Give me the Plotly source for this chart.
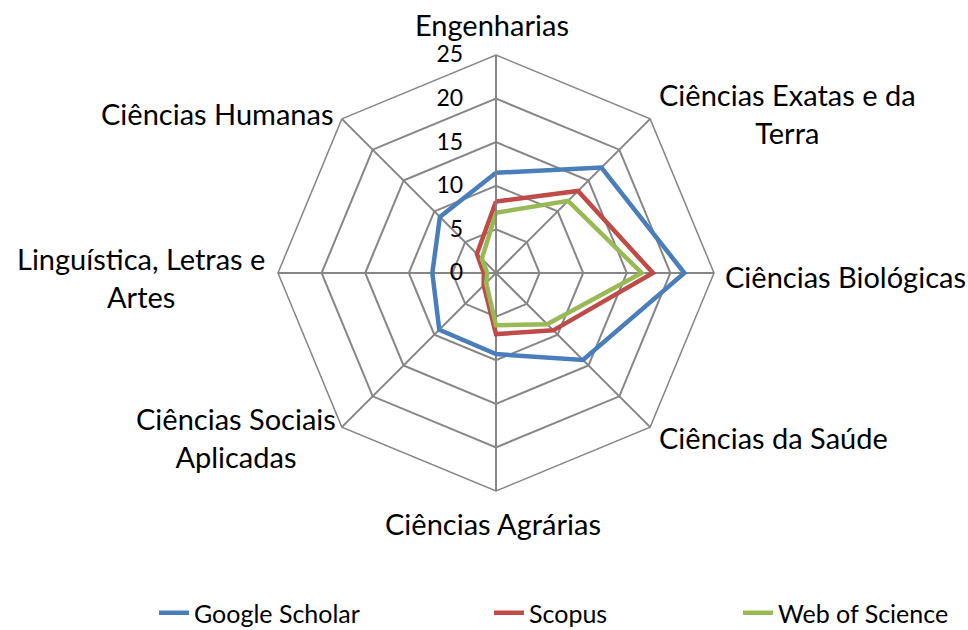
import plotly.graph_objects as go

categories = ["Engenharias", "Ciências Exatas e da Terra", "Ciências Biológicas",
              "Ciências da Saúde", "Ciências Agrárias", "Ciências Sociais Aplicadas",
              "Linguística, Letras e Artes", "Ciências Humanas"]
google_scholar = [11.5, 17.1, 21.6, 14.1, 9.3, 9.2, 7.3, 9.1]
scopus = [8.2, 13.3, 18.0, 9.3, 7.0, 2.0, 1.4, 3.1]
web_of_science = [6.9, 11.7, 16.7, 8.3, 6.0, 1.6, 1.0, 2.3]
radial_ticks = [0, 5, 10, 15, 20, 25]

series = [("Google Scholar", google_scholar, "#4A7EBB", "legend"),
          ("Scopus", scopus, "#BE4B48", "legend2"),
          ("Web of Science", web_of_science, "#98B954", "legend3")]

FONT = "Lato"
GRID = "#868686"

fig = go.Figure()
for name, vals, color, lg in series:
    fig.add_trace(go.Scatterpolar(
        r=vals + vals[:1], theta=categories + categories[:1],
        mode="lines", name=name, line=dict(color=color, width=4.5),
        legend=lg, showlegend=True))

leg_common = dict(orientation="h", font=dict(family=FONT, size=25, color="black"),
                  bgcolor="rgba(0,0,0,0)", xanchor="left", yanchor="middle",
                  y=1-613/630, itemwidth=30)

fig.update_layout(
    width=968, height=630,
    margin=dict(l=0, r=0, t=0, b=0, autoexpand=False),
    showlegend=True,
    paper_bgcolor="white",
    font=dict(family=FONT, size=20, color="black"),
    polar=dict(
        domain=dict(x=[278/968, 714/968], y=[1-491/630, 1-55/630]),
        bgcolor="white",
        gridshape="linear",
        angularaxis=dict(direction="clockwise", rotation=90,
                         showticklabels=False, ticks="",
                         showline=True, linecolor=GRID, linewidth=1.5,
                         gridcolor=GRID, gridwidth=1.5),
        radialaxis=dict(range=[0, 25], tickvals=radial_ticks, angle=90,
                        tickangle=90,
                        side="counterclockwise", showline=True,
                        linecolor=GRID, linewidth=1.5,
                        ticks="outside", ticklen=24, tickcolor="rgba(0,0,0,0)",
                        gridcolor=GRID, gridwidth=1.5,
                        tickfont=dict(family=FONT, size=23, color="black")),
    ),
    legend=dict(x=154/968, **leg_common),
    legend2=dict(x=489/968, **leg_common),
    legend3=dict(x=738/968, **leg_common),
)

LS = 29
labels = [
    ("Engenharias", 492, 25),
    ("Ciências Exatas e da<br>Terra", 787, 113),
    ("Ciências Biológicas", 845, 276),
    ("Ciências da Saúde", 773, 437),
    ("Ciências Agrárias", 493, 523),
    ("Ciências Sociais<br>Aplicadas", 236, 437),
    ("Linguística, Letras e<br>Artes", 141, 277),
    ("Ciências Humanas", 217, 113),
]
for text, x, y in labels:
    fig.add_annotation(text=text, x=x/968, y=1-y/630, xref="paper", yref="paper",
                       xanchor="center", yanchor="middle", align="center",
                       showarrow=False, font=dict(family=FONT, size=LS, color="black"))

fig.write_html("out.html", config={"displayModeBar": False},
               post_script="document.body.style.margin='0';document.body.style.overflow='hidden';")
